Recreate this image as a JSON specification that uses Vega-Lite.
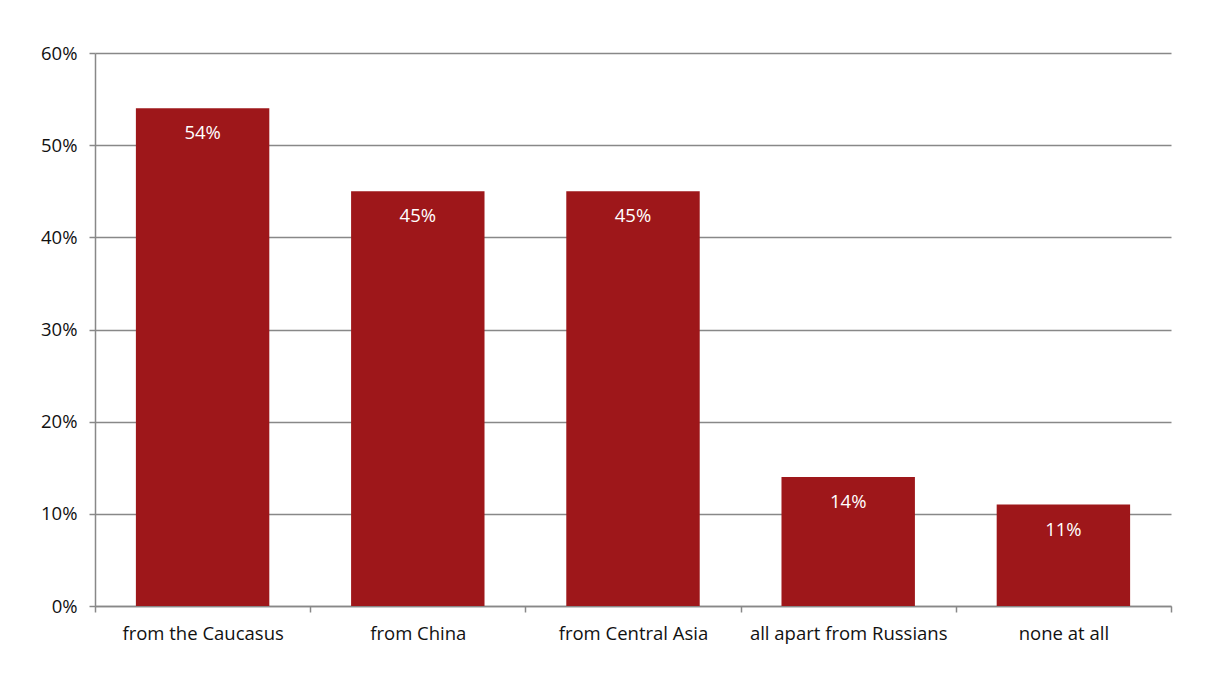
{
  "$schema": "https://vega.github.io/schema/vega-lite/v6.json",
  "width": 1076,
  "height": 553,
  "autosize": {"type": "none"},
  "padding": {"left": 95, "top": 53, "right": 44, "bottom": 71},
  "background": "white",
  "data": {
    "values": [
      {"group": "from the Caucasus", "share": 0.54},
      {"group": "from China", "share": 0.45},
      {"group": "from Central Asia", "share": 0.45},
      {"group": "all apart from Russians", "share": 0.14},
      {"group": "none at all", "share": 0.11}
    ]
  },
  "config": {
    "view": {"stroke": null},
    "font": "Open Sans"
  },
  "encoding": {
    "x": {
      "field": "group",
      "type": "nominal",
      "sort": null,
      "scale": {"paddingInner": 0, "paddingOuter": 0},
      "axis": {
        "title": null,
        "labelAngle": 0,
        "labelFontSize": 18.5,
        "labelLimit": 400,
        "labelColor": "#111111",
        "labelPadding": 12,
        "tickBand": "extent",
        "tickSize": 6,
        "tickColor": "#888888",
        "tickWidth": 1.5,
        "domainColor": "#888888",
        "domainWidth": 1.5,
        "grid": false
      }
    },
    "y": {
      "field": "share",
      "type": "quantitative",
      "scale": {"domain": [0, 0.6]},
      "axis": {
        "title": null,
        "format": ".0%",
        "values": [0, 0.1, 0.2, 0.3, 0.4, 0.5, 0.6],
        "labelFontSize": 18.5,
        "labelColor": "#111111",
        "labelPadding": 12,
        "tickSize": 6,
        "tickColor": "#888888",
        "tickWidth": 1.5,
        "domainColor": "#888888",
        "domainWidth": 1.5,
        "grid": true,
        "gridColor": "#888888",
        "gridWidth": 1.5
      }
    }
  },
  "layer": [
    {"mark": {"type": "bar", "color": "#9E171A", "width": {"band": 0.62}}},
    {
      "mark": {"type": "text", "color": "white", "fontSize": 18.5, "baseline": "middle", "dy": 25},
      "encoding": {"text": {"field": "share", "type": "quantitative", "format": ".0%"}}
    }
  ]
}
